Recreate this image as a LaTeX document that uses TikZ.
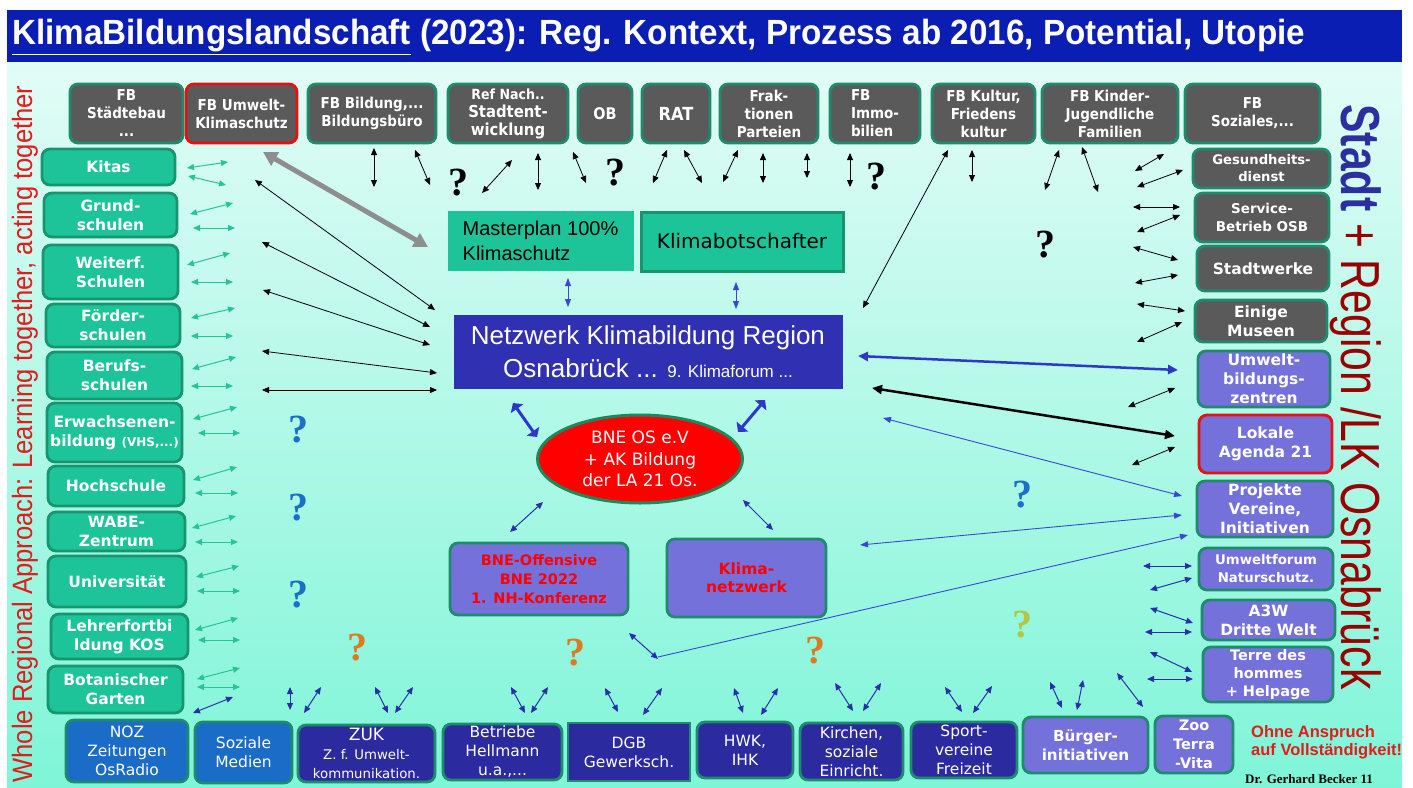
\documentclass[tikz,border=0pt]{standalone}
\usepackage{fontspec}
\usepackage{graphicx}
\setmainfont{DejaVu Sans}
\newfontfamily\arl{Liberation Sans}
\newfontfamily\dvc{DejaVu Sans Condensed}
\newfontfamily\tms{Liberation Serif}
\usetikzlibrary{arrows.meta,shapes.geometric}
\definecolor{bgtop}{HTML}{E2FCF6}
\definecolor{bgbot}{HTML}{7FF5D8}
\definecolor{titleblue}{HTML}{0A1EB4}
\definecolor{gfill}{HTML}{5A5A5A}
\definecolor{bord}{HTML}{1E8C6C}
\definecolor{grf}{HTML}{1EC499}
\definecolor{grb}{HTML}{16956F}
\definecolor{pur}{HTML}{7571DA}
\definecolor{navyb}{HTML}{2B2A9E}
\definecolor{mblue}{HTML}{1A6CC6}
\definecolor{netz}{HTML}{2F30B2}
\definecolor{tealA}{HTML}{26C594}
\definecolor{narr}{HTML}{2A2FA8}
\definecolor{lblue}{HTML}{3A48D0}
\definecolor{bblue}{HTML}{2D38C8}
\definecolor{qblue}{HTML}{1A6FC8}
\definecolor{qor}{HTML}{DD7A1E}
\definecolor{qyg}{HTML}{B2C845}
\definecolor{stadtb}{HTML}{2B2FA0}
\definecolor{dred}{HTML}{990000}
\definecolor{lred}{HTML}{E41B1B}
\definecolor{boxred}{HTML}{E81010}
\definecolor{elb}{HTML}{1A8A5A}
\definecolor{grayarr}{HTML}{8E8E8E}
\newcommand\fsz[2]{\fontsize{#1}{#2}\selectfont}
\newcommand\mybox[7]{\node[#2, minimum width={#5-#3}, minimum height={#6-#4}] (#1) at ({(#3+#5)/2},{(#4+#6)/2}) {#7};}
\newcommand\arw[3]{\draw[#1] (#2) -- (#3);}
\begin{document}
\begin{tikzpicture}[x=1pt,y=-1pt,
 basebox/.style={rounded corners=8pt, line width=2.8pt, draw=bord, align=center, inner sep=0pt, text=white},
 gbox/.style={basebox, fill=gfill, font=\dvc\bfseries\fsz{15}{18}},
 rgbox/.style={basebox, fill=gfill, font=\bfseries\fsz{15.5}{19}},
 lbox/.style={basebox, draw=grb, fill=grf, font=\bfseries\fsz{15.5}{19}},
 pbox/.style={basebox, fill=pur, font=\bfseries\fsz{15.5}{19}},
 nbox/.style={basebox, fill=navyb, font=\fsz{15.5}{19}},
 mbbox/.style={basebox, fill=mblue, font=\fsz{15.5}{19}},
 qm/.style={font=\tms\bfseries\fsz{40}{40}, inner sep=0pt},
 arK/.style={draw=black, line width=0.8pt, >={Triangle[length=7pt,width=6pt]}, <->},
 arT/.style={draw=tealA, line width=1pt, >={Triangle[length=7pt,width=6pt]}, <->},
 arN/.style={draw=narr, line width=1pt, >={Triangle[length=7pt,width=6pt]}, <->},
 arL/.style={draw=lblue, line width=0.9pt, >={Triangle[length=8pt,width=6pt]}, <->},
 arG/.style={draw=grayarr, line width=5pt, >={Triangle[length=14pt,width=15pt]}, <->},
 arBB/.style={draw=bblue, line width=2.5pt, >={Triangle[length=10pt,width=9pt]}, <->},
 arKK/.style={draw=black, line width=2.5pt, >={Triangle[length=10pt,width=9pt]}, <->},
 arBT/.style={draw=bblue, line width=3pt, >={Triangle[length=7pt,width=15pt]}, <->}
]
\useasboundingbox (0,0) rectangle (1413,787);
\fill[white] (0,0) rectangle (1413,787);
\shade[top color=bgtop,bottom color=bgbot] (7,62) rectangle (1402,787);
\fill[titleblue] (7,10) rectangle (1402,62);
\node[anchor=west, text=white, inner sep=0pt] (title) at (12,37) {\resizebox{1293pt}{\height}{\arl\bfseries\fsz{35}{35}\underline{KlimaBildungslandschaft} (2023): Reg. Kontext, Prozess ab 2016, Potential, Utopie}};
\node[rotate=90, text=lred, inner sep=0pt] (lv) at (25,434) {\resizebox{697pt}{\height}{\arl\fsz{28}{28}Whole Regional Approach: Learning together, acting together}};
\node[rotate=-90, inner sep=0pt] (rv) at (1356,397) {\resizebox{585pt}{\height}{\arl\fsz{55}{55}{\color{stadtb}\bfseries Stadt} {\color{dred}+ Region /LK Osnabrück}}};

% top row
\mybox{fbst}{gbox}{70}{84}{183}{143}{FB\\Städtebau\\...}
\mybox{fbum}{gbox,draw=boxred}{186}{84}{297}{143}{FB Umwelt-\\Klimaschutz}
\mybox{fbbi}{gbox}{308}{84}{436}{143}{FB Bildung,...\\Bildungsbüro}
\mybox{ref}{gbox}{448}{84}{568}{143}{{\fsz{14}{16}Ref Nach..}\\{\fsz{16.5}{19}Stadtent-}\\{\fsz{16.5}{19}wicklung}}
\mybox{ob}{gbox}{578}{84}{632}{143}{\fsz{16}{18}OB}
\mybox{rat}{gbox}{642}{84}{710}{143}{\fsz{18}{20}RAT}
\mybox{frak}{gbox}{720}{84}{818}{143}{Frak-\\tionen\\Parteien}
\mybox{immo}{gbox,align=left}{830}{84}{920}{143}{FB\\Immo-\\bilien}
\mybox{kult}{gbox}{932}{84}{1035}{143}{FB Kultur,\\Friedens\\kultur}
\mybox{kind}{gbox}{1042}{84}{1178}{143}{FB Kinder-\\Jugendliche\\Familien}
\mybox{sozi}{gbox}{1185}{84}{1320}{143}{FB\\Soziales,...}

% right column
\mybox{ges}{rgbox,font=\bfseries\fsz{13.2}{17}}{1193}{149}{1330}{188}{Gesundheits-\\dienst}
\mybox{serv}{rgbox,font=\bfseries\fsz{13.5}{18}}{1195}{193}{1329}{242}{Service-\\Betrieb OSB}
\mybox{stw}{rgbox}{1197}{246}{1329}{291}{Stadtwerke}
\mybox{mus}{rgbox}{1195}{300}{1327}{342}{Einige\\Museen}
\mybox{ubz}{pbox}{1198}{351}{1330}{407}{Umwelt-\\bildungs-\\zentren}
\mybox{la21}{pbox,draw=boxred}{1199}{415}{1332}{473}{Lokale\\Agenda 21}
\mybox{proj}{pbox}{1197}{481}{1333}{537}{Projekte\\Vereine,\\Initiativen}
\mybox{ufn}{pbox,font=\bfseries\fsz{13.3}{18}}{1199}{548}{1333}{590}{Umweltforum\\Naturschutz.}
\mybox{a3w}{pbox}{1202}{600}{1335}{640}{A3W\\Dritte Welt}
\mybox{tdh}{pbox,font=\bfseries\fsz{14.5}{18}}{1203}{647}{1333}{702}{Terre des\\hommes\\+ Helpage}

% left column
\mybox{kitas}{lbox}{42}{149}{175}{185}{Kitas}
\mybox{grund}{lbox}{44}{193}{177}{237}{Grund-\\schulen}
\mybox{weit}{lbox}{43}{245}{178}{299}{Weiterf.\\Schulen}
\mybox{foerd}{lbox}{46}{304}{180}{347}{Förder-\\schulen}
\mybox{beruf}{lbox}{47}{352}{182}{399}{Berufs-\\schulen}
\mybox{erw}{lbox}{47}{403}{182}{462}{Erwachsenen-\\bildung {\fsz{12}{19}(VHS,...)}}
\mybox{hoch}{lbox}{48}{466}{184}{506}{Hochschule}
\mybox{wabe}{lbox}{48}{512}{185}{551}{WABE-\\Zentrum}
\mybox{uni}{lbox}{48}{556}{186}{607}{Universität}
\mybox{lehr}{lbox}{51}{614}{188}{659}{Lehrerfortbi\\ldung KOS}
\mybox{bota}{lbox}{48}{666}{183}{713}{Botanischer\\Garten}

% bottom row
\mybox{noz}{mbbox}{66}{720}{188}{782}{NOZ\\Zeitungen\\OsRadio}
\mybox{sozm}{mbbox}{195}{722}{292}{783}{Soziale\\Medien}
\mybox{zuk}{nbox}{298}{725}{435}{782}{{\fsz{17}{19}ZUK}\\{\fsz{13.3}{17}Z. f. Umwelt-}\\{\fsz{13.3}{17}kommunikation.}}
\mybox{betr}{nbox}{443}{724}{562}{780}{Betriebe\\Hellmann\\u.a.,...}
\mybox{dgb}{nbox,rounded corners=0pt}{568}{723}{690}{781}{DGB\\Gewerksch.}
\mybox{hwk}{nbox}{697}{722}{793}{778}{HWK,\\IHK}
\mybox{kirch}{nbox}{800}{723}{903}{780}{Kirchen,\\soziale\\Einricht.}
\mybox{sport}{nbox}{911}{722}{1017}{778}{Sport-\\vereine\\Freizeit}
\mybox{buerg}{pbox,font=\bfseries\fsz{15.2}{19}}{1023}{717}{1148}{773}{Bürger-\\initiativen}
\mybox{zoo}{pbox,font=\bfseries\fsz{14.5}{19}}{1155}{716}{1233}{773}{Zoo\\Terra\\-Vita}

% centre
\mybox{master}{basebox,rounded corners=0pt,line width=0pt,draw=grf,fill=grf,text=black,align=left,font=\arl\fsz{20}{25}}{448}{211}{633}{270}{Masterplan 100\%\\Klimaschutz}
\mybox{kbot}{basebox,rounded corners=0pt,line width=3pt,draw=grb,fill=grf,text=black,font=\fsz{20}{24}}{641}{212}{843}{271}{Klimabotschafter}
\mybox{netzw}{basebox,rounded corners=0pt,line width=0pt,draw=netz,fill=netz,font=\arl\fsz{26}{33}}{454}{315}{842}{388}{Netzwerk Klimabildung Region\\Osnabrück ... {\fsz{17}{17}9. Klimaforum ...}}
\node[ellipse, fill=red, draw=elb, line width=3pt, minimum width=205, minimum height=88, inner sep=0pt, text=white, align=center, font=\fsz{17}{21.5}] (bne) at (640,459) {BNE OS e.V\\+ AK Bildung\\der LA 21 Os.};
\mybox{bneo}{pbox,text=red,font=\bfseries\fsz{14.5}{19}}{450}{543}{628}{615}{BNE-Offensive\\BNE 2022\\1. NH-Konferenz}
\mybox{knetz}{pbox,text=red,font=\bfseries\fsz{15.5}{18}}{667}{539}{826}{617}{Klima-\\netzwerk}

% remarks
\node[anchor=north west, inner sep=0pt, text=lred, align=left, font=\arl\bfseries\fsz{16.5}{18.5}] (ohne) at (1251,725) {Ohne Anspruch\\auf Vollständigkeit!};
\node[anchor=west, inner sep=0pt, font=\tms\bfseries\fsz{13}{13}] (dr) at (1245,779) {Dr. Gerhard Becker 11};

% question marks
\node[qm] (q1) at (458,183) {?};
\node[qm] (q2) at (615,173) {?};
\node[qm] (q3) at (876,177) {?};
\node[qm] (q4) at (1045,245) {?};
\node[qm,text=qblue] (q5) at (298,430) {?};
\node[qm,text=qblue] (q6) at (298,508) {?};
\node[qm,text=qblue] (q7) at (298,595) {?};
\node[qm,text=qblue] (q8) at (1022,495) {?};
\node[qm,text=qor] (q9) at (357,648) {?};
\node[qm,text=qor] (q10) at (575,653) {?};
\node[qm,text=qor] (q11) at (815,651) {?};
\node[qm,text=qyg] (q12) at (1022,625) {?};

% black arrows top
\arw{arK}{374,148}{374,187}
\arw{arK}{415,150}{430,185}
\arw{arK}{482,193}{512,160}
\arw{arK}{538,153}{538,190}
\arw{arK}{573,152}{586,183}
\arw{arK}{653,183}{667,150}
\arw{arK}{684,150}{702,183}
\arw{arK}{723,182}{738,150}
\arw{arK}{763,153}{763,183}
\arw{arK}{807,153}{807,178}
\arw{arK}{850,153}{850,187}
\arw{arK}{972,150}{972,182}
\arw{arK}{1059,150}{1045,190}
\arw{arK}{1082,147}{1098,192}
\arw{arK}{948,150}{863,308}
% black arrows right
\arw{arK}{1164,154}{1135,171}
\arw{arK}{1183,170}{1137,187}
\arw{arK}{1133,207}{1180,207}
\arw{arK}{1180,215}{1137,232}
\arw{arK}{1133,247}{1178,260}
\arw{arK}{1135,283}{1178,275}
\arw{arK}{1137,304}{1185,311}
\arw{arK}{1182,322}{1137,342}
\arw{arK}{1175,388}{1128,407}
\arw{arK}{1175,447}{1132,465}
% black long arrows left
\arw{arK}{255,180}{435,310}
\arw{arK}{262,242}{430,327}
\arw{arK}{263,290}{430,345}
\arw{arK}{262,351}{437,373}
\arw{arK}{262,390}{437,390}
\arw{arG}{263,152}{428,247}
\arw{arKK}{872,388}{1175,436}
\arw{arBB}{858,356}{1178,370}

% teal arrows left
\arw{arT}{187,168}{228,162}
\arw{arT}{188,176}{226,185}
\arw{arT}{190,214}{233,203}
\arw{arT}{193,228}{235,228}
\arw{arT}{187,265}{230,253}
\arw{arT}{191,282}{233,282}
\arw{arT}{191,318}{235,308}
\arw{arT}{191,336}{233,336}
\arw{arT}{192,369}{236,357}
\arw{arT}{191,386}{233,386}
\arw{arT}{193,419}{237,407}
\arw{arT}{198,433}{240,433}
\arw{arT}{193,480}{237,467}
\arw{arT}{195,493}{238,493}
\arw{arT}{192,528}{236,516}
\arw{arT}{195,542}{238,542}
\arw{arT}{196,577}{239,566}
\arw{arT}{197,591}{240,591}
\arw{arT}{195,630}{238,618}
\arw{arT}{198,640}{240,640}
\arw{arT}{197,679}{240,668}
\arw{arT}{197,687}{240,687}

% navy arrows bottom
\arw{arN}{193,713}{233,697}
\arw{arN}{290,687}{290,710}
\arw{arN}{321,687}{304,713}
\arw{arN}{375,687}{388,713}
\arw{arN}{413,687}{395,713}
\arw{arN}{511,687}{525,713}
\arw{arN}{548,687}{531,713}
\arw{arN}{605,688}{618,712}
\arw{arN}{662,688}{643,715}
\arw{arN}{734,688}{743,713}
\arw{arN}{778,688}{761,715}
\arw{arN}{835,683}{853,711}
\arw{arN}{881,683}{863,711}
\arw{arN}{945,687}{962,712}
\arw{arN}{992,686}{973,713}
\arw{arN}{1050,682}{1062,708}
\arw{arN}{1083,680}{1077,710}
\arw{arN}{1117,673}{1143,707}
% navy arrows right
\arw{arN}{1143,566}{1192,566}
\arw{arN}{1192,578}{1150,590}
\arw{arN}{1150,608}{1193,623}
\arw{arN}{1145,632}{1192,632}
\arw{arN}{1150,652}{1192,672}
\arw{arN}{1147,679}{1193,679}
% centre
\arw{arL}{568,278}{568,307}
\arw{arL}{736,282}{736,309}
\arw{arN}{543,502}{510,532}
\arw{arN}{743,500}{773,530}
\arw{arN}{629,633}{658,659}
\arw{arL}{883,418}{1182,496}
\arw{arL}{860,545}{1182,515}
\draw[arL,-{Triangle[length=8pt,width=6pt]}] (658,657) -- (1188,535);
\arw{arBT}{513,403}{537,437}
\arw{arBT}{765,400}{738,432}
\end{tikzpicture}
\end{document}
